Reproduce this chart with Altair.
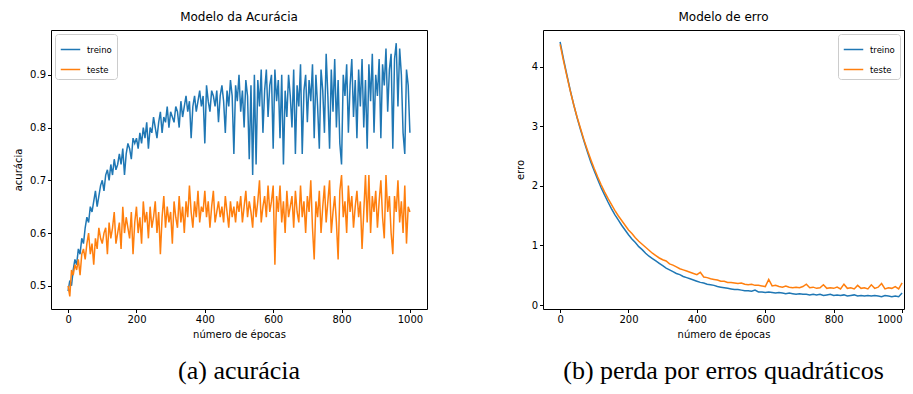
import altair as alt
import pandas as pd

# ---- data: accuracy (every 5 epochs) ----
acc_epochs = list(range(0, 1001, 5))
acc_treino = [
    0.49, 0.51, 0.50, 0.53, 0.55, 0.54, 0.57, 0.56, 0.59, 0.58,
    0.61, 0.63, 0.62, 0.65, 0.64, 0.66, 0.68, 0.65, 0.67, 0.69,
    0.70, 0.68, 0.71, 0.72, 0.70, 0.73, 0.71, 0.74, 0.72, 0.73,
    0.75, 0.73, 0.76, 0.71, 0.75, 0.77, 0.76, 0.74, 0.78, 0.77,
    0.78, 0.76, 0.79, 0.77, 0.80, 0.78, 0.81, 0.76, 0.80, 0.79,
    0.82, 0.80, 0.78, 0.81, 0.83, 0.79, 0.82, 0.81, 0.84, 0.80,
    0.83, 0.82, 0.81, 0.84, 0.83, 0.80, 0.85, 0.82, 0.84, 0.86,
    0.83, 0.85, 0.78, 0.84, 0.86, 0.83, 0.85, 0.87, 0.84, 0.86,
    0.77, 0.88, 0.85, 0.83, 0.87, 0.86, 0.84, 0.87, 0.81, 0.86,
    0.88, 0.85, 0.79, 0.87, 0.84, 0.89, 0.86, 0.75, 0.88, 0.85,
    0.90, 0.83, 0.87, 0.80, 0.89, 0.86, 0.74, 0.88, 0.71, 0.90,
    0.73, 0.89, 0.84, 0.91, 0.79, 0.87, 0.91, 0.82, 0.88, 0.90,
    0.76, 0.91, 0.85, 0.89, 0.78, 0.90, 0.73, 0.87, 0.82, 0.90,
    0.86, 0.80, 0.91, 0.75, 0.88, 0.84, 0.92, 0.75, 0.87, 0.90,
    0.81, 0.89, 0.85, 0.92, 0.78, 0.90, 0.84, 0.76, 0.91, 0.87,
    0.79, 0.94, 0.86, 0.76, 0.91, 0.83, 0.93, 0.80, 0.89, 0.77,
    0.73, 0.90, 0.86, 0.92, 0.79, 0.88, 0.93, 0.82, 0.89, 0.78,
    0.91, 0.84, 0.93, 0.80, 0.89, 0.76, 0.92, 0.85, 0.94, 0.79,
    0.90, 0.86, 0.93, 0.78, 0.92, 0.88, 0.95, 0.83, 0.91, 0.94,
    0.76, 0.93, 0.96, 0.84, 0.95, 0.90, 0.79, 0.75, 0.91, 0.88,
    0.79,
]
acc_teste = [
    0.50, 0.48, 0.53, 0.52, 0.54, 0.53, 0.55, 0.52, 0.56, 0.57,
    0.55, 0.58, 0.60, 0.56, 0.58, 0.54, 0.59, 0.57, 0.61, 0.59,
    0.58, 0.60, 0.61, 0.56, 0.62, 0.59, 0.61, 0.64, 0.58, 0.60,
    0.62, 0.57, 0.65, 0.60, 0.63, 0.61, 0.59, 0.64, 0.56, 0.62,
    0.65, 0.60, 0.63, 0.58, 0.66, 0.62, 0.64, 0.59, 0.65, 0.61,
    0.63, 0.66, 0.60, 0.64, 0.56, 0.63, 0.67, 0.61, 0.65, 0.62,
    0.64, 0.58, 0.66, 0.63, 0.61, 0.67, 0.62, 0.65, 0.60, 0.66,
    0.63, 0.69, 0.64, 0.61, 0.66, 0.63, 0.68, 0.62, 0.65, 0.64,
    0.68, 0.63, 0.66, 0.61, 0.65, 0.68, 0.62, 0.64, 0.66, 0.63,
    0.65, 0.62, 0.67, 0.64, 0.61, 0.66, 0.63, 0.65, 0.62, 0.66,
    0.64, 0.67, 0.62, 0.65, 0.68, 0.63, 0.66, 0.64, 0.61, 0.67,
    0.63, 0.66, 0.70, 0.62, 0.65, 0.67, 0.63, 0.69, 0.64, 0.66,
    0.69, 0.54, 0.67, 0.64, 0.69, 0.62, 0.66, 0.60, 0.68, 0.63,
    0.65, 0.67, 0.61, 0.68, 0.64, 0.62, 0.69, 0.63, 0.66, 0.60,
    0.67, 0.64, 0.70, 0.61, 0.55, 0.66, 0.63, 0.68, 0.60, 0.65,
    0.69, 0.62, 0.66, 0.70, 0.60, 0.64, 0.67, 0.62, 0.55, 0.68,
    0.71, 0.63, 0.66, 0.60, 0.69, 0.64, 0.67, 0.61, 0.65, 0.68,
    0.63, 0.66, 0.57, 0.64, 0.71, 0.62, 0.71, 0.60, 0.67, 0.64,
    0.68, 0.61, 0.66, 0.70, 0.63, 0.59, 0.71, 0.64, 0.67, 0.60,
    0.56, 0.67, 0.64, 0.70, 0.62, 0.66, 0.60, 0.69, 0.58, 0.65,
    0.64,
]

# ---- data: loss (every 10 epochs) ----
loss_epochs = list(range(0, 1001, 10))
loss_treino = [
    4.42, 4.13, 3.86, 3.60, 3.36, 3.14, 2.94, 2.75, 2.57, 2.40,
    2.25, 2.11, 1.97, 1.85, 1.73, 1.62, 1.52, 1.43, 1.34, 1.26,
    1.18, 1.11, 1.05, 0.98, 0.93, 0.87, 0.82, 0.78, 0.74, 0.70,
    0.66, 0.62, 0.59, 0.56, 0.53, 0.51, 0.48, 0.46, 0.44, 0.42,
    0.40, 0.38, 0.37, 0.35, 0.34, 0.33, 0.31, 0.30, 0.29, 0.28,
    0.27, 0.26, 0.26, 0.25, 0.24, 0.24, 0.23, 0.25, 0.22, 0.22,
    0.21, 0.22, 0.21, 0.20, 0.21, 0.20, 0.19, 0.20, 0.19, 0.18,
    0.19, 0.18, 0.18, 0.17, 0.18, 0.17, 0.18, 0.16, 0.17, 0.18,
    0.16, 0.17, 0.16, 0.17, 0.15, 0.16, 0.17, 0.15, 0.16, 0.15,
    0.16, 0.15, 0.16, 0.15, 0.14, 0.16, 0.15, 0.14, 0.15, 0.14,
    0.20,
]
loss_teste = [
    4.38, 4.10, 3.84, 3.59, 3.36, 3.15, 2.96, 2.77, 2.60, 2.44,
    2.29, 2.15, 2.02, 1.90, 1.79, 1.69, 1.59, 1.50, 1.42, 1.34,
    1.26, 1.20, 1.13, 1.07, 1.02, 0.97, 0.92, 0.87, 0.83, 0.79,
    0.76, 0.74, 0.69, 0.67, 0.64, 0.61, 0.59, 0.57, 0.55, 0.53,
    0.51, 0.55, 0.47, 0.46, 0.44, 0.43, 0.42, 0.40, 0.40, 0.38,
    0.38, 0.37, 0.36, 0.37, 0.35, 0.34, 0.35, 0.33, 0.33, 0.32,
    0.31, 0.43, 0.32, 0.33, 0.31, 0.30, 0.32, 0.30, 0.29, 0.30,
    0.29, 0.31, 0.35, 0.29, 0.30, 0.28, 0.29, 0.34, 0.28, 0.29,
    0.28, 0.30, 0.27, 0.35, 0.28, 0.29, 0.27, 0.33, 0.28, 0.29,
    0.27, 0.34, 0.28, 0.30, 0.36, 0.27, 0.29, 0.28, 0.31, 0.27,
    0.37,
]

series_names = ["treino", "teste"]
series_colors = ["#1f77b4", "#ff7f0e"]
x_ticks = [0, 200, 400, 600, 800, 1000]
acc_ticks = [0.5, 0.6, 0.7, 0.8, 0.9]
loss_ticks = [0, 1, 2, 3, 4]
captions = ["(a) acurácia", "(b) perda por erros quadráticos"]


def long_df(epochs, a, b):
    return pd.DataFrame({
        "epoca": epochs + epochs,
        "valor": a + b,
        "serie": ["treino"] * len(a) + ["teste"] * len(b),
        "ordem": [0] * len(a) + [1] * len(b),
    })


FONT = "DejaVu Sans"
W, H = 376, 279
W2 = 361


def panel(df, title, ytitle, ydomain, yticks, xdomain, width, legend_orient, caption, fmt, flush):
    color = alt.Color(
        "serie:N",
        scale=alt.Scale(domain=series_names, range=series_colors),
        sort=series_names,
        legend=alt.Legend(
            title=None, orient=legend_orient, offset=4,
            symbolType="stroke", symbolSize=380, symbolStrokeWidth=1.5,
            labelFont=FONT, labelFontSize=8.5, labelColor="#000",
            strokeColor="#cccccc", fillColor="white", cornerRadius=3,
            padding=5, rowPadding=5, labelOffset=6,
        ),
    )
    lines = alt.Chart(df).mark_line(strokeWidth=1.5, clip=True).encode(
        x=alt.X("epoca:Q", scale=alt.Scale(domain=xdomain, nice=False, zero=False),
                axis=alt.Axis(values=x_ticks, title="número de épocas", format="d",
                              labelFlush=flush)),
        y=alt.Y("valor:Q", scale=alt.Scale(domain=ydomain, nice=False, zero=False),
                axis=alt.Axis(values=yticks, title=ytitle, format=fmt)),
        color=color,
        detail="ordem:O",
        order="epoca:Q",
    )
    cap = alt.Chart(pd.DataFrame({"t": [caption]})).mark_text(
        font="Liberation Serif", fontSize=26, color="#000", baseline="middle", align="center"
    ).encode(text="t:N", x=alt.value(width / 2), y=alt.value(H + 62))
    return alt.layer(lines, cap).properties(
        width=width, height=H,
        title=alt.TitleParams(title, font=FONT, fontSize=12, fontWeight="normal",
                              color="#000", offset=6),
    )


left = panel(long_df(acc_epochs, acc_treino, acc_teste), "Modelo da Acurácia", "acurácia",
             [0.456, 0.985], acc_ticks, [-50, 1050], W, "top-left", captions[0], ".1f", False)
right = panel(long_df(loss_epochs, loss_treino, loss_teste), "Modelo de erro", "erro",
              [-0.067, 4.62], loss_ticks, [-50, 1005.6], W2, "top-right", captions[1], "d", 6)

chart = alt.hconcat(left, right, spacing=86).properties(
    padding={"left": 5, "top": 2, "right": 0, "bottom": 0}
).configure_view(stroke="#000", strokeWidth=1).configure_axis(
    domain=False, grid=False, tickColor="#000", tickSize=3.5, tickWidth=1,
    labelFont=FONT, labelFontSize=10, labelColor="#000", labelPadding=2,
    titleFont=FONT, titleFontSize=10, titleFontWeight="normal", titleColor="#000",
).configure_axisY(titlePadding=6).configure_axisX(titlePadding=5)

chart.save("out.html", embed_options={"renderer": "svg", "actions": False})
